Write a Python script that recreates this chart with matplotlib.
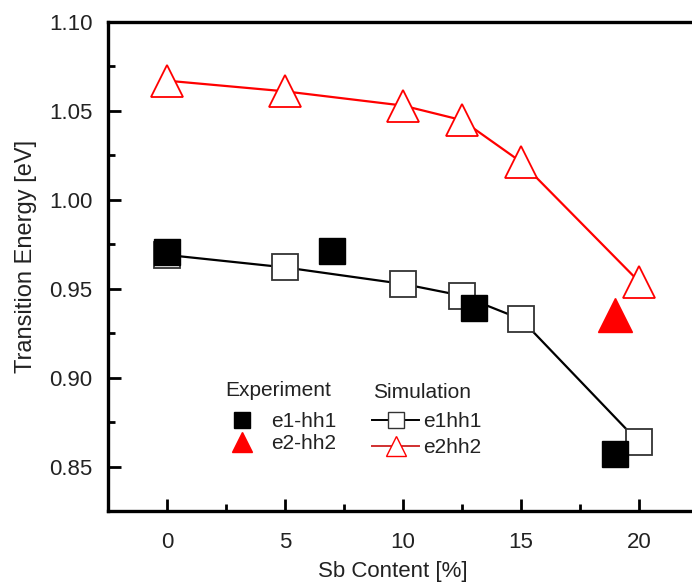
import matplotlib
matplotlib.use("Agg")
import matplotlib.pyplot as plt
from matplotlib.ticker import MultipleLocator, FormatStrFormatter
from matplotlib.lines import Line2D

plt.rcParams['font.family'] = ['Liberation Sans', 'DejaVu Sans']

# Simulacion
sb_sim = [0, 5, 10, 12.5, 15, 20]
e1hh1_sim = [0.969, 0.962, 0.9527, 0.9461, 0.9329, 0.8636]
e2hh2_sim = [1.067, 1.061, 1.053, 1.0448, 1.0213, 0.954]

# Experimento
sb_exp1 = [0, 7, 13, 19]
e1hh1_exp = [0.9705, 0.971, 0.939, 0.857]
sb_exp2 = [19]
e2hh2_exp = [0.9353]

fig = plt.figure(figsize=(6.92, 5.82), dpi=100)
ax = fig.add_axes([108 / 692, 71 / 582, 590 / 692, 489 / 582])

ax.plot(sb_sim, e2hh2_sim, color='#ff0000', lw=1.6, marker='^', ms=23,
        mfc='white', mec='#ff0000', mew=1.3, zorder=2)
ax.plot(sb_sim, e1hh1_sim, color='black', lw=1.6, marker='s', ms=19,
        mfc='white', mec='#333333', mew=1.3, zorder=2)
ax.plot(sb_exp1, e1hh1_exp, ls='none', marker='s', ms=19,
        mfc='black', mec='black', zorder=3)
ax.plot(sb_exp2, e2hh2_exp, ls='none', marker='^', ms=24,
        mfc='#ff0000', mec='#ff0000', zorder=3)

ax.set_xlim(-2.5, 22.5)
ax.set_ylim(0.825, 1.10)
ax.xaxis.set_major_locator(MultipleLocator(5))
ax.xaxis.set_minor_locator(MultipleLocator(2.5))
ax.yaxis.set_major_locator(MultipleLocator(0.05))
ax.yaxis.set_minor_locator(MultipleLocator(0.025))
ax.yaxis.set_major_formatter(FormatStrFormatter('%.2f'))

ax.tick_params(which='both', direction='in', width=2, colors='black',
               labelcolor='#222222', labelsize=16)
ax.tick_params(which='major', length=9)
ax.tick_params(which='minor', length=5)
ax.tick_params(axis='x', pad=15)
ax.tick_params(axis='y', pad=11)

for s in ['left', 'top', 'bottom']:
    ax.spines[s].set_linewidth(2.4)
ax.spines['right'].set_visible(False)

ax.set_xlabel('Sb Content [%]', fontsize=16, color='#222222')
ax.set_ylabel('Transition Energy [eV]', fontsize=17, color='#222222')
ax.xaxis.set_label_coords((393 - 108) / 590, (511 - 561) / 489)
ax.yaxis.set_label_coords((37 - 108) / 590, (511 - 256) / 489)

# Leyendas
ax.text((225 - 108) / 590, (511 - 391) / 489, 'Experiment', transform=ax.transAxes,
        fontsize=15, color='#222222', ha='left', va='center')
ax.text((373 - 108) / 590, (511 - 393) / 489, 'Simulation', transform=ax.transAxes,
        fontsize=15, color='#222222', ha='left', va='center')

h_exp = [Line2D([], [], ls='none', marker='s', ms=12, mfc='black', mec='black'),
         Line2D([], [], ls='none', marker='^', ms=14, mfc='#ff0000', mec='#ff0000')]
leg1 = ax.legend(h_exp, ['e1-hh1', 'e2-hh2'], loc='upper left',
                 bbox_to_anchor=((232 - 108) / 590, (511 - 412) / 489),
                 frameon=False, fontsize=15, borderpad=0, borderaxespad=0,
                 handlelength=0.96, handletextpad=0.9, labelspacing=0.15)
for t in leg1.get_texts():
    t.set_color('#222222')
ax.add_artist(leg1)

h_sim = [Line2D([], [], color='black', lw=1.4, marker='s', ms=12, mfc='white', mec='#333333'),
         Line2D([], [], color='#d03030', lw=1.4, marker='^', ms=14, mfc='white', mec='#ff0000')]
leg2 = ax.legend(h_sim, ['e1hh1', 'e2hh2'], loc='upper left',
                 bbox_to_anchor=((372 - 108) / 590, (511 - 412) / 489),
                 frameon=False, fontsize=15, borderpad=0, borderaxespad=0,
                 handlelength=2.26, handletextpad=0.2, labelspacing=0.35)
for t in leg2.get_texts():
    t.set_color('#222222')

fig.savefig('out.png', dpi=100)
